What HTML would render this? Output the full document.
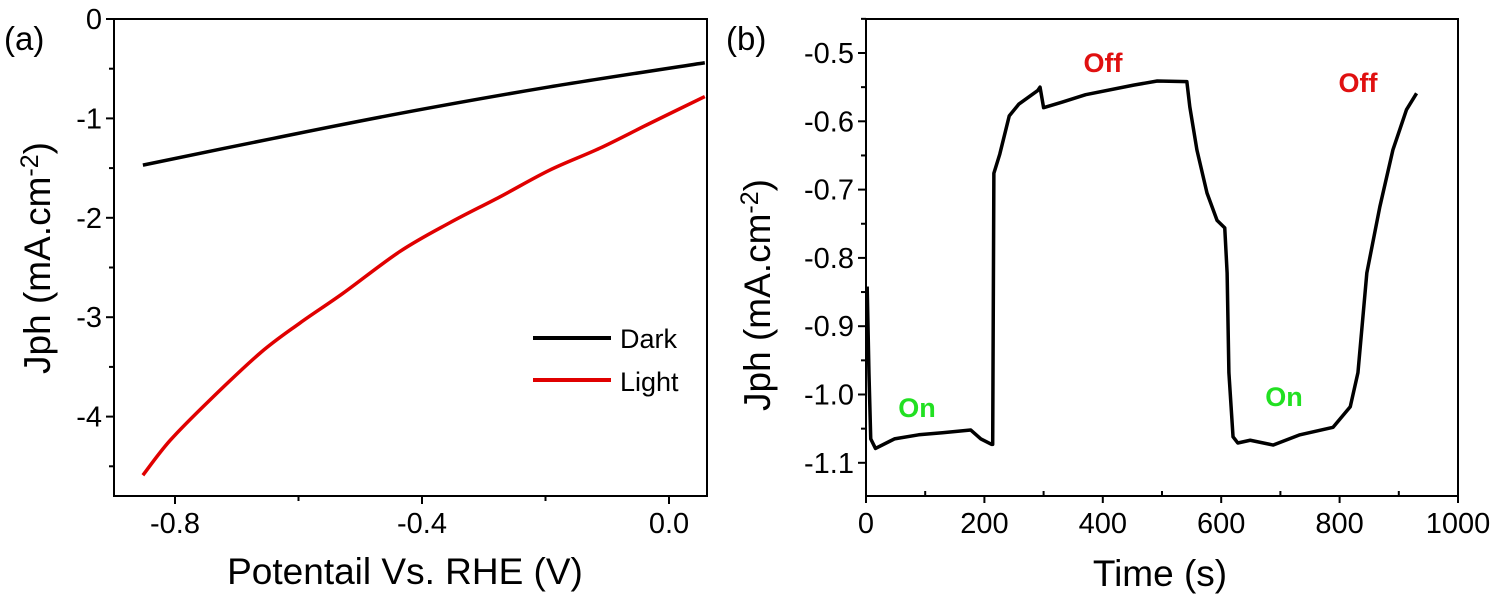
<!DOCTYPE html>
<html><head><meta charset="utf-8"><style>
body{margin:0;background:#fff;}
svg{display:block;font-family:"Liberation Sans",Arial,sans-serif;}
</style></head><body>
<svg id="fig" width="1500" height="603" viewBox="0 0 1500 603"></svg>
<script>
// Panel (a) data
const aDarkX=[-0.852,-0.64,-0.436,-0.2,0.058];
const aDarkY=[-1.47,-1.20,-0.95,-0.69,-0.44];
const aLightX=[-0.852,-0.808,-0.743,-0.662,-0.598,-0.528,-0.436,-0.355,-0.274,-0.193,-0.112,-0.031,0.058];
const aLightY=[-4.59,-4.24,-3.83,-3.36,-3.06,-2.76,-2.34,-2.05,-1.79,-1.52,-1.30,-1.05,-0.78];
const aXTicks=[-0.8,-0.4,0.0];
const aXTickLabels=["-0.8","-0.4","0.0"];
const aYTicks=[0,-1,-2,-3,-4];
const aYTickLabels=["0","-1","-2","-3","-4"];
// Panel (b) data
const bT=[2,5,8,16,48,89,129,177,194,212,214,216,226,242,258,290,294,300,331,371,452,492,542,547,559,576,593,606,610,613,620,628,649,688,733,789,818,831,846,868,890,913,930];
const bJ=[-0.842,-0.969,-1.065,-1.079,-1.065,-1.059,-1.056,-1.052,-1.065,-1.073,-1.073,-0.676,-0.648,-0.592,-0.575,-0.555,-0.55,-0.580,-0.572,-0.561,-0.547,-0.541,-0.542,-0.579,-0.642,-0.705,-0.745,-0.756,-0.822,-0.968,-1.062,-1.071,-1.067,-1.074,-1.059,-1.048,-1.018,-0.968,-0.822,-0.725,-0.642,-0.583,-0.559];
const bXTicks=[0,200,400,600,800,1000];
const bXTickLabels=["0","200","400","600","800","1000"];
const bYTicks=[-0.5,-0.6,-0.7,-0.8,-0.9,-1.0,-1.1];
const bYTickLabels=["-0.5","-0.6","-0.7","-0.8","-0.9","-1.0","-1.1"];

const NS="http://www.w3.org/2000/svg";
const svg=document.getElementById('fig');
function mk(tag,attrs,parent,text){const e=document.createElementNS(NS,tag);for(const k in attrs)e.setAttribute(k,attrs[k]);if(text!==undefined)e.textContent=text;(parent||svg).appendChild(e);return e;}

const aL=114,aR=707,aT=19,aB=496;
const ax=v=>175+(v+0.8)/0.4*247;
const ay=v=>aT-v*99.4;
const bL=866,bR=1458,bT0=19,bB=496;
const bx=v=>bL+v*(bR-bL)/1000;
const by=v=>53+(-0.5-v)/0.1*68.3;

function frame(L,R,T,B,name){
  const r=mk('rect',{x:L,y:T,width:R-L,height:B-T,fill:'none',stroke:'#000','stroke-width':2});
  
  
}
frame(aL,aR,aT,aB,'plot-frame-a');
frame(bL,bR,bT0,bB,'plot-frame-b');

for(const v of [-0.8,-0.6,-0.4,-0.2,0.0]){
  const major=aXTicks.some(t=>Math.abs(t-v)<1e-9);
  const l=mk('line',{x1:ax(v),x2:ax(v),y1:aB,y2:aB+(major?8:5),stroke:'#000','stroke-width':2});
  
  
}
aXTicks.forEach((v,i)=>{
  const t=mk('text',{x:ax(v),y:aB+37,'font-size':29,'text-anchor':'middle'},svg,aXTickLabels[i]);
  
  
});
for(let v=0;v>=-4.5;v-=0.5){
  const major=Math.abs(v-Math.round(v))<1e-9;
  const l=mk('line',{x1:aL,x2:aL-(major?8:5),y1:ay(v),y2:ay(v),stroke:'#000','stroke-width':2});
  
  
}
aYTicks.forEach((v,i)=>{
  const t=mk('text',{x:aL-12,y:ay(v)+10,'font-size':29,'text-anchor':'end'},svg,aYTickLabels[i]);
  
  
});
function smoothPath(xs,ys,fx,fy){
  const P=xs.map((x,i)=>[fx(x),fy(ys[i])]);
  let d='M'+P[0][0]+','+P[0][1];
  for(let i=0;i<P.length-1;i++){
    const p0=P[Math.max(0,i-1)],p1=P[i],p2=P[i+1],p3=P[Math.min(P.length-1,i+2)];
    const c1=[p1[0]+(p2[0]-p0[0])/6,p1[1]+(p2[1]-p0[1])/6];
    const c2=[p2[0]-(p3[0]-p1[0])/6,p2[1]-(p3[1]-p1[1])/6];
    d+=' C'+c1[0]+','+c1[1]+' '+c2[0]+','+c2[1]+' '+p2[0]+','+p2[1];
  }
  return d;
}
function curve(xs,ys,fx,fy,color,name){
  const p=mk('path',{d:smoothPath(xs,ys,fx,fy),fill:'none',stroke:color,'stroke-width':3.5,'stroke-linejoin':'round'});
  
  
}
function poly(xs,ys,fx,fy,color,name){
  const p=mk('polyline',{points:xs.map((x,i)=>fx(x)+','+fy(ys[i])).join(' '),fill:'none',stroke:color,'stroke-width':3.5,'stroke-linejoin':'round'});
  
  
}
curve(aDarkX,aDarkY,ax,ay,'#000','dark-curve');
curve(aLightX,aLightY,ax,ay,'#e00000','light-curve');

const lg=mk('g',{});


mk('line',{x1:533,x2:611,y1:338,y2:338,stroke:'#000','stroke-width':4},lg);
mk('text',{x:620,y:348,'font-size':27},lg,'Dark');
mk('line',{x1:533,x2:611,y1:380,y2:380,stroke:'#e00000','stroke-width':4},lg);
mk('text',{x:620,y:391,'font-size':27},lg,'Light');

let t=mk('text',{x:405,y:584,'font-size':37,'text-anchor':'middle'},svg,'Potentail Vs. RHE  (V)');


t=mk('text',{x:0,y:0,'font-size':37,'text-anchor':'middle',transform:'translate(50,258) rotate(-90)'},svg);


t.innerHTML='Jph (mA.cm<tspan dy="-12" font-size="25">-2</tspan><tspan dy="12">)</tspan>';
t=mk('text',{x:4,y:50,'font-size':33},svg,'(a)');



for(let v=0;v<=1000;v+=100){
  const major=v%200===0;
  const l=mk('line',{x1:bx(v),x2:bx(v),y1:bB,y2:major?bB+7:bB-5,stroke:'#000','stroke-width':2});
  
  
}
bXTicks.forEach((v,i)=>{
  const tt=mk('text',{x:bx(v),y:bB+37,'font-size':29,'text-anchor':'middle'},svg,bXTickLabels[i]);
  
  
});
for(let k=0;k<=13;k++){
  const v=-0.5+0.05-k*0.05;
  const major=k%2===1;
  const l=mk('line',{x1:bL,x2:bL-(major?8:5),y1:by(v),y2:by(v),stroke:'#000','stroke-width':2});
  
  
}
bYTicks.forEach((v,i)=>{
  const tt=mk('text',{x:bL-12,y:by(v)+10,'font-size':29,'text-anchor':'end'},svg,bYTickLabels[i]);
  
  
});
poly(bT,bJ,bx,by,'#000','photocurrent-curve');

t=mk('text',{x:1160,y:586,'font-size':37,'text-anchor':'middle'},svg,'Time (s)');


t=mk('text',{x:0,y:0,'font-size':37,'text-anchor':'middle',transform:'translate(770,295) rotate(-90)'},svg);


t.innerHTML='Jph (mA.cm<tspan dy="-12" font-size="25">-2</tspan><tspan dy="12">)</tspan>';
t=mk('text',{x:726,y:50,'font-size':33},svg,'(b)');



const notes=[["Off",1103,72,'#e01010'],["Off",1358,92,'#e01010'],["On",917,417,'#22e022'],["On",1284,406,'#22e022']];
notes.forEach(n=>{
  const e=mk('text',{x:n[1],y:n[2],'font-size':27,'font-weight':'bold','text-anchor':'middle',fill:n[3]},svg,n[0]);
  
  
});
</script>
</body></html>
